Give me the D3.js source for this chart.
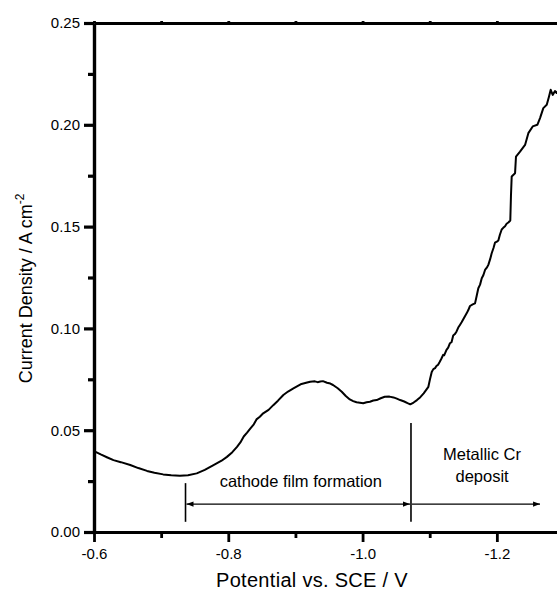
<!DOCTYPE html>
<html>
<head>
<meta charset="utf-8">
<script src="https://cdn.jsdelivr.net/npm/d3@7"></script>
<style>
  html, body { margin: 0; padding: 0; background: #fff; }
  svg { display: block; font-family: "Liberation Sans", Arial, Helvetica, sans-serif; }
</style>
</head>
<body>
<svg id="chart" width="557" height="592"></svg>
<script>
// Cathodic polarization curve: potential (V vs. SCE) and current density (A cm^-2)
const potential = [
  -0.600, -0.610, -0.620, -0.629, -0.640, -0.654, -0.666, -0.679, -0.690, -0.703,
  -0.715, -0.728, -0.740, -0.753, -0.765, -0.778, -0.790, -0.798, -0.806, -0.813,
  -0.818, -0.823, -0.828, -0.833, -0.838, -0.842, -0.847, -0.852, -0.860, -0.867,
  -0.874, -0.882, -0.889, -0.897, -0.903, -0.909, -0.916, -0.922, -0.929, -0.933,
  -0.937, -0.941, -0.947, -0.952, -0.956, -0.963, -0.969, -0.975, -0.981, -0.986,
  -0.991, -0.996, -1.001, -1.006, -1.011, -1.016, -1.021, -1.027, -1.033, -1.040,
  -1.046, -1.051, -1.056, -1.062, -1.067, -1.071, -1.076, -1.081, -1.086, -1.091,
  -1.098, -1.1004, -1.1030, -1.1054, -1.1080, -1.1100, -1.1125, -1.1150, -1.1175, -1.1200,
  -1.1215, -1.1250, -1.1275, -1.1300, -1.1325, -1.1350, -1.1375, -1.1400, -1.1425, -1.1450,
  -1.1475, -1.1500, -1.1525, -1.1550, -1.1575, -1.1600, -1.1640, -1.1675, -1.1700, -1.1724,
  -1.1750, -1.1775, -1.1800, -1.1824, -1.1850, -1.1873, -1.1900, -1.1923, -1.1950, -1.1972,
  -1.2000, -1.2022, -1.2045, -1.2072, -1.2095, -1.2122, -1.2145, -1.2171, -1.2200, -1.2210,
  -1.2221, -1.2271, -1.2285, -1.2345, -1.2420, -1.2469, -1.2534, -1.2603, -1.2643, -1.2692,
  -1.2743, -1.2777, -1.2802, -1.2832, -1.2866, -1.2891, -1.2920
];
const currentDensity = [
  0.0397, 0.0381, 0.0366, 0.0353, 0.0343, 0.0329, 0.0314, 0.0300, 0.0291, 0.0283,
  0.0279, 0.0276, 0.0279, 0.0288, 0.0305, 0.0328, 0.0350, 0.0369, 0.0392, 0.0418,
  0.0440, 0.0469, 0.0488, 0.0509, 0.0529, 0.0553, 0.0566, 0.0583, 0.0600, 0.0623,
  0.0645, 0.0673, 0.0690, 0.0705, 0.0716, 0.0727, 0.0733, 0.0738, 0.0740, 0.0736,
  0.0739, 0.0741, 0.0733, 0.0729, 0.0722, 0.0706, 0.0689, 0.0668, 0.0651, 0.0643,
  0.0637, 0.0635, 0.0632, 0.0637, 0.0640, 0.0646, 0.0648, 0.0657, 0.0664, 0.0665,
  0.0661, 0.0655, 0.0648, 0.0641, 0.0633, 0.0627, 0.0636, 0.0648, 0.0662, 0.0681,
  0.0713, 0.0750, 0.0786, 0.0800, 0.0805, 0.0815, 0.0822, 0.0836, 0.0852, 0.0870,
  0.0868, 0.0895, 0.0906, 0.0927, 0.0932, 0.0965, 0.0972, 0.0985, 0.1004, 0.1017,
  0.1030, 0.1045, 0.1060, 0.1074, 0.1090, 0.1110, 0.1118, 0.1123, 0.1160, 0.1197,
  0.1215, 0.1246, 0.1262, 0.1287, 0.1298, 0.1312, 0.1340, 0.1369, 0.1395, 0.1421,
  0.1426, 0.1432, 0.1460, 0.1486, 0.1494, 0.1502, 0.1514, 0.1520, 0.1530, 0.1650,
  0.1746, 0.1762, 0.1844, 0.1868, 0.1901, 0.1959, 0.1992, 0.2000, 0.2033, 0.2082,
  0.2098, 0.2139, 0.2172, 0.2147, 0.2166, 0.2156, 0.2170
];

// Axis ticks
const xMajorTicks = [-0.6, -0.8, -1.0, -1.2];
const xMinorTicks = [-0.7, -0.9, -1.1];
const yMajorTicks = [0.00, 0.05, 0.10, 0.15, 0.20, 0.25];
const yMinorTicks = [0.025, 0.075, 0.125, 0.175, 0.225];

// Region markers and labels (potential, current)
const regionMarkers = [
  { v: -0.7363, from: 0.0050, to: 0.0240 },
  { v: -1.0721, from: 0.0050, to: 0.0535 }
];
const regionArrows = [
  { from: -0.7363, to: -1.0721, y: 0.0137, heads: "both" },
  { from: -1.0721, to: -1.2658, y: 0.0137, heads: "end" }
];
const regionLabels = [
  { v: -0.908, y: 0.0222, lines: ["cathode film formation"] },
  { v: -1.178, y: 0.0353, lines: ["Metallic Cr", "deposit"] }
];

const svg = d3.select("#chart");
const plot = { left: 94, right: 564, top: 23, bottom: 532 };

const x = d3.scaleLinear().domain([-0.6, -1.3]).range([plot.left, plot.right]);
const y = d3.scaleLinear().domain([0, 0.25]).range([plot.bottom, plot.top]);

const data = potential.map((p, i) => ({ p, c: currentDensity[i] }));

svg.append("defs").append("clipPath").attr("id", "plot-clip")
  .append("rect").attr("x", plot.left).attr("y", plot.top)
  .attr("width", plot.right - plot.left).attr("height", plot.bottom - plot.top);

// Curve
svg.append("path")
  .datum(data)
  .attr("clip-path", "url(#plot-clip)")
  .attr("fill", "none")
  .attr("stroke", "#000")
  .attr("stroke-width", 2)
  .attr("stroke-linejoin", "round")
  .attr("d", d3.line().x(d => x(d.p)).y(d => y(d.c)));

// Axes
function styleAxis(g, width) {
  g.select(".domain").attr("stroke-width", width);
  g.selectAll(".tick line").attr("stroke-width", width);
  g.selectAll(".tick text").attr("font-size", 15).attr("fill", "#000")
    .attr("font-family", "'Liberation Sans', Arial, sans-serif");
}

const blank = () => "";
svg.append("g").attr("transform", `translate(0,${plot.bottom})`)
  .call(d3.axisBottom(x).tickValues(xMinorTicks).tickSize(6).tickFormat(blank).tickSizeOuter(0))
  .call(g => styleAxis(g, 2.8));
svg.append("g").attr("transform", `translate(0,${plot.bottom})`)
  .call(d3.axisBottom(x).tickValues(xMajorTicks).tickSize(10).tickPadding(6)
    .tickFormat(d => d3.format(".1f")(d).replace("\u2212", "-")).tickSizeOuter(0))
  .call(g => styleAxis(g, 2.8));

svg.append("g").attr("transform", `translate(0,${plot.top})`)
  .call(d3.axisTop(x).tickValues(xMajorTicks.concat(xMinorTicks)).tickSize(2).tickFormat(blank).tickSizeOuter(0))
  .call(g => styleAxis(g, 2.8));

svg.append("g").attr("transform", `translate(${plot.left},0)`)
  .call(d3.axisLeft(y).tickValues(yMinorTicks).tickSize(6).tickFormat(blank).tickSizeOuter(0))
  .call(g => styleAxis(g, 3.2));
svg.append("g").attr("transform", `translate(${plot.left},0)`)
  .call(d3.axisLeft(y).tickValues(yMajorTicks).tickSize(10).tickPadding(4)
    .tickFormat(d3.format(".2f")).tickSizeOuter(0))
  .call(g => styleAxis(g, 3.2));

svg.append("g").attr("transform", `translate(${plot.right},0)`)
  .call(d3.axisLeft(y).tickValues(yMajorTicks).tickSize(-10).tickFormat(blank).tickSizeOuter(0))
  .call(g => styleAxis(g, 2.8));
svg.append("g").attr("transform", `translate(${plot.right},0)`)
  .call(d3.axisLeft(y).tickValues(yMinorTicks).tickSize(-6).tickFormat(blank).tickSizeOuter(0))
  .call(g => styleAxis(g, 2.8));

// Axis titles
svg.append("text")
  .attr("x", 312).attr("y", 587)
  .attr("text-anchor", "middle").attr("font-size", 20).attr("letter-spacing", 0.3)
  .text("Potential vs. SCE / V");

const yTitle = svg.append("text")
  .attr("transform", `translate(32,${(plot.top + plot.bottom) / 2 + 11}) rotate(-90)`)
  .attr("text-anchor", "middle").attr("font-size", 18);
yTitle.append("tspan").text("Current Density / A cm");
yTitle.append("tspan").attr("font-size", 12).attr("dy", -8).text("-2");

// Region annotations
const ann = svg.append("g").attr("stroke", "#000").attr("fill", "#000");
regionMarkers.forEach(m => {
  ann.append("line")
    .attr("x1", x(m.v)).attr("x2", x(m.v))
    .attr("y1", y(m.from)).attr("y2", y(m.to))
    .attr("stroke-width", 1.6);
});

function arrowHead(px, py, dir) {
  const len = 7, half = 2.6;
  ann.append("path")
    .attr("stroke", "none")
    .attr("d", `M${px},${py} L${px - dir * len},${py - half} L${px - dir * len},${py + half} Z`);
}
regionArrows.forEach(a => {
  const x1 = x(a.from) + 1, x2 = x(a.to) - 1, yy = y(a.y);
  ann.append("line").attr("x1", x1).attr("x2", x2).attr("y1", yy).attr("y2", yy)
    .attr("stroke-width", 1.3);
  arrowHead(x2, yy, 1);
  if (a.heads === "both") arrowHead(x1, yy, -1);
});

regionLabels.forEach(l => {
  const t = svg.append("text")
    .attr("text-anchor", "middle").attr("font-size", 16.5);
  l.lines.forEach((s, i) => {
    t.append("tspan").attr("x", x(l.v)).attr("y", y(l.y) + i * 22).text(s);
  });
});
</script>
</body>
</html>
